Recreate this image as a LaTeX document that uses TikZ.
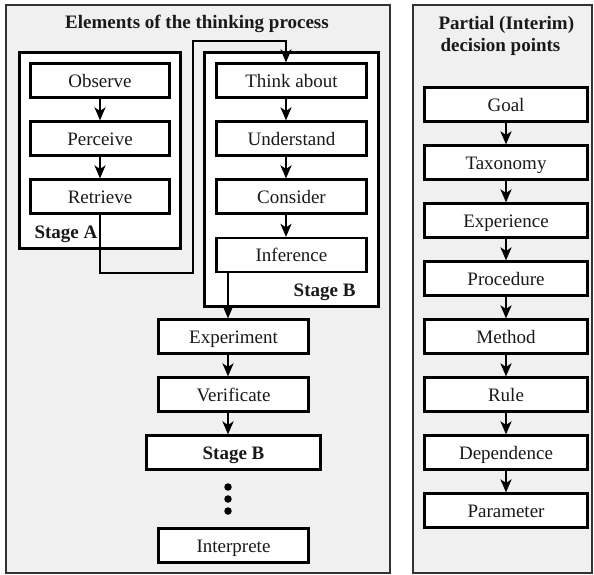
\documentclass[tikz,border=0pt]{standalone}
\usepackage{fontspec}
\setmainfont{Liberation Serif}
\usetikzlibrary{arrows.meta}
\begin{document}
\begin{tikzpicture}[x=1pt,y=-1pt,
  font=\fontsize{19}{22}\selectfont, text=black!90,
  panel/.style={draw=black!80, line width=1.4pt, fill=black!6, inner sep=0pt},
  stagebox/.style={draw, line width=2.2pt, fill=white, inner sep=0pt},
  box/.style={draw, line width=2.2pt, fill=white, minimum height=34pt,
    inner sep=0pt, text height=13pt, text depth=0pt},
  flow/.style={line width=2.2pt, -{Stealth[length=13pt,width=11pt,inset=3.5pt]}},
  dot/.style={circle, fill=black, inner sep=0pt, minimum size=7.5pt},
  heading/.style={font=\fontsize{19}{22}\selectfont\bfseries}]
\useasboundingbox (0,0) rectangle (594,574);

% panels
\node[panel, minimum width=384pt, minimum height=568pt] (left) at (198,289) {};
\node[panel, minimum width=179pt, minimum height=568pt] (right) at (502.5,289) {};

% headings
\node[heading, anchor=base] (ltitle) at (197,28) {Elements of the thinking process};
\node[heading, anchor=base west] (rtitleA) at (435,29) {Partial (Interim)};
\node[heading, anchor=base west] (rtitleB) at (437,51) {decision points};

% stage frames
\node[stagebox, minimum width=161pt, minimum height=196pt] (stageA) at (100,150.5) {};
\node[stagebox, minimum width=174pt, minimum height=254pt] (stageB) at (291.5,179.5) {};
\node[heading, anchor=base west] (labA) at (31,238) {Stage A};
\node[heading, anchor=base east] (labB) at (359,296) {Stage B};

% stage A
\node[box, minimum width=139pt] (obs)  at (100,80.5)  {Observe};
\node[box, minimum width=139pt] (perc) at (100,138.5) {Perceive};
\node[box, minimum width=139pt] (retr) at (100,196.5) {Retrieve};

% stage B
\node[box, minimum width=150pt] (think) at (291.5,80.5)  {Think about};
\node[box, minimum width=150pt] (und)   at (291.5,138.5) {Understand};
\node[box, minimum width=150pt] (cons)  at (291.5,196.5) {Consider};
\node[box, minimum width=150pt] (inf)   at (291.5,255)   {Inference};

% continuation
\node[box, minimum width=150pt] (exper) at (233.5,336.5) {Experiment};
\node[box, minimum width=150pt] (verif) at (233.5,394.5) {Verificate};
\node[box, minimum width=174pt, font=\fontsize{19}{22}\selectfont\bfseries] (stageB2) at (233.5,452.5) {Stage B};
\node[dot] (d1) at (228,487) {};
\node[dot] (d2) at (228,499) {};
\node[dot] (d3) at (228,511) {};
\node[box, minimum width=150pt] (interp) at (233.5,545.5) {Interprete};

% decision points
\node[box, minimum width=163pt] (goal) at (506,104.5) {Goal};
\node[box, minimum width=163pt] (tax)  at (506,162.5) {Taxonomy};
\node[box, minimum width=163pt] (expc) at (506,220.5) {Experience};
\node[box, minimum width=163pt] (proc) at (506,278.5) {Procedure};
\node[box, minimum width=163pt] (meth) at (506,336.5) {Method};
\node[box, minimum width=163pt] (rule) at (506,394.5) {Rule};
\node[box, minimum width=163pt] (dep)  at (506,452.5) {Dependence};
\node[box, minimum width=163pt] (par)  at (506,510.5) {Parameter};

% connector columns
\coordinate (colB) at (286,0);
\coordinate (colC) at (228,0);
\coordinate (j2) at (193,273);
\coordinate (j4) at (286,41);

% stage A flow
\draw[flow] (obs) -- (perc);
\draw[flow] (perc) -- (retr);
\draw[flow] (retr.south) |- (j2) |- (j4) -- (think.north -| j4);

% stage B flow
\draw[flow] (think.south -| colB) -- (und.north -| colB);
\draw[flow] (und.south -| colB) -- (cons.north -| colB);
\draw[flow] (cons.south -| colB) -- (inf.north -| colB);
\draw[flow] (inf.south -| colC) -- (exper.north -| colC);
\draw[flow] (exper.south -| colC) -- (verif.north -| colC);
\draw[flow] (verif.south -| colC) -- (stageB2.north -| colC);

% decision flow
\draw[flow] (goal) -- (tax);
\draw[flow] (tax) -- (expc);
\draw[flow] (expc) -- (proc);
\draw[flow] (proc) -- (meth);
\draw[flow] (meth) -- (rule);
\draw[flow] (rule) -- (dep);
\draw[flow] (dep) -- (par);
\end{tikzpicture}
\end{document}
